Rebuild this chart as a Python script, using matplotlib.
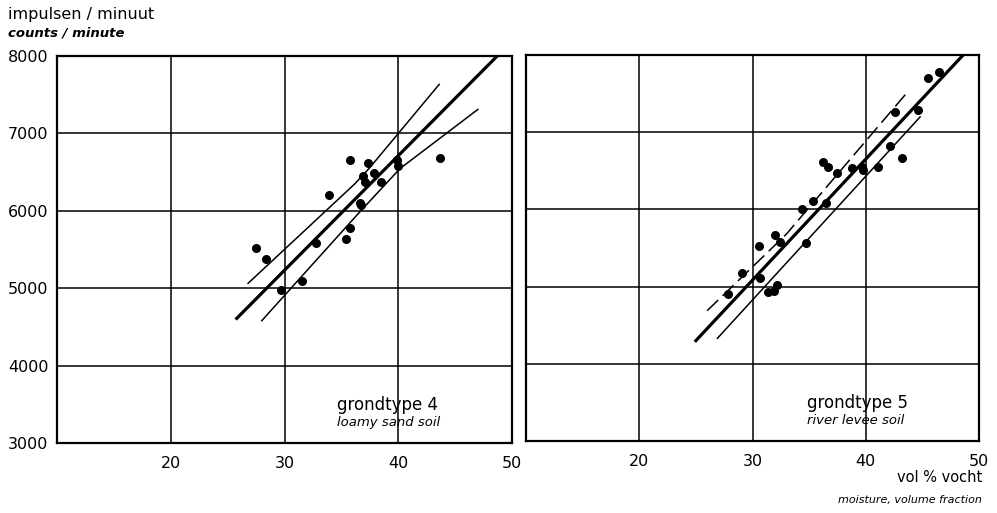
import numpy as np
import matplotlib.pyplot as plt

# grondtype 4 - loamy sand soil
moist4 = [27.5, 28.4, 29.7, 31.5, 32.8, 33.9, 35.8, 35.4, 35.8, 36.6, 36.7,
          36.9, 37.1, 37.3, 37.9, 38.5, 39.9, 40.0, 43.7]
counts4 = [5524, 5372, 4983, 5095, 5580, 6208, 6662, 5636, 5784, 6100, 6070,
           6455, 6372, 6619, 6489, 6372, 6662, 6576, 6684]
fit4_x = [25.8, 48.7]
fit4_y = [4610, 8000]
up4_x = [26.8, 36.2, 37.5, 43.6]
up4_y = [5063, 6351, 6558, 7633]
lo4_x = [28.0, 36.6, 40.15, 47.0]
lo4_y = [4580, 5983, 6545, 7310]

# grondtype 5 - river levee soil
moist5 = [27.8, 29.1, 30.6, 30.7, 31.4, 31.9, 32.2, 32.0, 32.4, 34.7, 34.4,
          35.3, 36.5, 36.2, 36.7, 37.5, 38.8, 39.7, 39.8, 41.1, 42.1, 43.2,
          42.6, 44.6, 45.5, 46.5]
counts5 = [4905, 5172, 5530, 5112, 4935, 4948, 5022, 5668, 5582, 5560, 6004,
           6112, 6077, 6620, 6552, 6470, 6530, 6543, 6510, 6552, 6823, 6672,
           7267, 7289, 7707, 7784]
fit5_x = [25.0, 48.6]
fit5_y = [4300, 8000]
up5_x = [26.0, 33.0, 43.6]
up5_y = [4688, 5681, 7505]
lo5_x = [26.9, 44.8]
lo5_y = [4330, 7198]

xticks = [20, 30, 40, 50]
yticks = [3000, 4000, 5000, 6000, 7000, 8000]

plt.rcParams['font.family'] = 'DejaVu Sans'
fig = plt.figure(figsize=(9.97, 5.13), dpi=100)
ax1 = fig.add_axes([57/997, 70/513, 455/997, 387/513])
ax2 = fig.add_axes([526/997, 72/513, 453/997, 386/513])

for ax in (ax1, ax2):
    ax.set_xlim(10, 50)
    ax.set_ylim(3000, 8000)
    ax.set_xticks(xticks)
    ax.set_yticks(yticks)
    ax.tick_params(length=0, labelsize=11.5, pad=6)
    ax.tick_params(axis='x', pad=9)
    for g in [20, 30, 40]:
        ax.axvline(g, color='black', lw=1.1, zorder=1)
    for g in [4000, 5000, 6000, 7000]:
        ax.axhline(g, color='black', lw=1.1, zorder=1)
    for s in ax.spines.values():
        s.set_linewidth(1.6)

ax2.set_yticklabels([])

ax1.scatter(moist4, counts4, s=30, color='black', zorder=3)
ax1.plot(fit4_x, fit4_y, color='black', lw=2.3, zorder=2)
ax1.plot(up4_x, up4_y, color='black', lw=1.1, zorder=2)
ax1.plot(lo4_x, lo4_y, color='black', lw=1.1, zorder=2)

ax2.scatter(moist5, counts5, s=30, color='black', zorder=3)
ax2.plot(fit5_x, fit5_y, color='black', lw=2.3, zorder=2)
ax2.plot(up5_x, up5_y, color='black', lw=1.1, dashes=(10, 4), zorder=2)
ax2.plot(lo5_x, lo5_y, color='black', lw=1.1, zorder=2)

ax1.text(0.615, 0.098, 'grondtype 4', transform=ax1.transAxes, fontsize=12, va='center')
ax1.text(0.615, 0.052, 'loamy sand soil', transform=ax1.transAxes, fontsize=9.5,
         style='italic', va='center')
ax2.text(0.62, 0.098, 'grondtype 5', transform=ax2.transAxes, fontsize=12, va='center')
ax2.text(0.62, 0.052, 'river levee soil', transform=ax2.transAxes, fontsize=9.5,
         style='italic', va='center')

fig.text(8/997, 1 - 15/513, 'impulsen / minuut', fontsize=11.5, va='center')
fig.text(8/997, 1 - 33/513, 'counts / minute', fontsize=9.5, style='italic',
         weight='bold', va='center')
fig.text(982/997, 1 - 477/513, 'vol % vocht', fontsize=10.5, ha='right', va='center')
fig.text(982/997, 1 - 500/513, 'moisture, volume fraction', fontsize=8,
         style='italic', ha='right', va='center')

fig.savefig('out.png', dpi=100)
